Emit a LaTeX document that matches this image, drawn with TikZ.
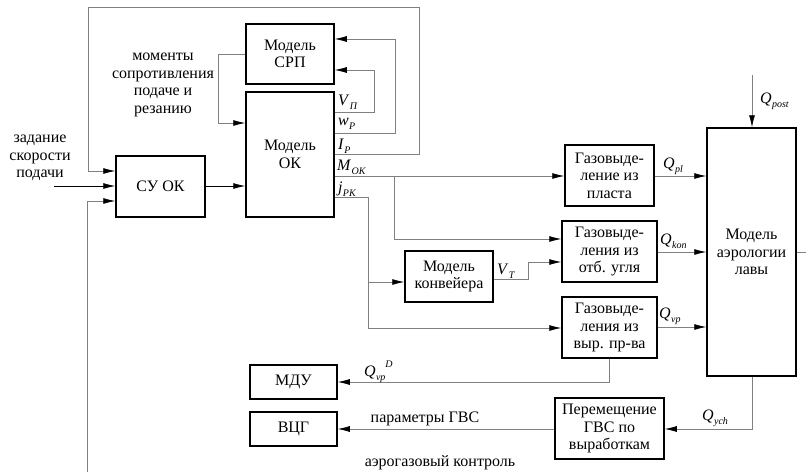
\documentclass[tikz,border=0pt]{standalone}
\usepackage{fontspec}
\setmainfont{Liberation Serif}
\usetikzlibrary{arrows.meta}
\newcommand\qs[2]{\textit{#1}\kern0.3pt\raisebox{-0.5ex}{\fontsize{10}{10}\selectfont\textit{#2}}}
\newcommand\qsd[3]{\textit{#1}\kern0.3pt\raisebox{-0.5ex}{\fontsize{10}{10}\selectfont\textit{#2}}\raisebox{1.2ex}{\fontsize{10}{10}\selectfont\textit{#3}}}
\begin{document}
\begin{tikzpicture}[x=1pt,y=-1pt,font=\fontsize{16}{17.5}\selectfont,
  blk/.style={draw=black,line width=1.5pt,align=center,inner sep=0pt,fill=white},
  con/.style={draw=black!50,line width=0.7pt},
  arr/.style={con,-{Latex[length=12pt,width=6pt,color=black]}},
  lbl/.style={inner sep=0pt,anchor=west},
  txt/.style={inner sep=0pt,align=center}]
\useasboundingbox (0,0) rectangle (806,472);
% blocks
\node[blk,minimum width=88pt,minimum height=60pt] (srp) at (290,54) {Модель\\СРП};
\node[blk,minimum width=88pt,minimum height=125pt] (ok) at (290,154.5) {Модель\\ОК};
\node[blk,minimum width=89pt,minimum height=61pt] (suok) at (160.5,186.5) {СУ ОК};
\node[blk,minimum width=89pt,minimum height=61pt] (g1) at (609.5,175.5) {Газовыде-\\ление из\\пласта};
\node[blk,minimum width=95pt,minimum height=61pt] (g2) at (609.5,251.5) {Газовыде-\\ления из\\отб. угля};
\node[blk,minimum width=95pt,minimum height=61pt] (g3) at (609.5,327.5) {Газовыде-\\ления из\\выр. пр-ва};
\node[blk,minimum width=88pt,minimum height=51pt] (conv) at (449,276.5) {Модель\\конвейера};
\node[blk,minimum width=89pt,minimum height=248pt] (aer) at (751.5,252) {Модель\\аэрологии\\лавы};
\node[blk,minimum width=87pt,minimum height=34pt] (mdu) at (293.5,382) {МДУ};
\node[blk,minimum width=87pt,minimum height=34pt] (vcg) at (293.5,429) {ВЦГ};
\node[blk,minimum width=109pt,minimum height=61pt] (per) at (609.5,428.5) {Перемещение\\ГВС по\\выработкам};
% free texts
\node[txt] (mom) at (163,85) {моменты\\сопротивления\\подаче и\\резанию};
\node[txt] (zad) at (40,158) {задание\\скорости\\подачи};
\node[txt] (par) at (425,419) {параметры ГВС};
\node[txt] (aero) at (440,463) {аэрогазовый контроль};
% free ends
\coordinate (inp) at (54,186);
\coordinate (bl) at (87,472);
\coordinate (qp) at (752,75);
\coordinate (ar) at (806,252);
% connectors
\draw[arr] (ok.east |- 0,154) -- (419,154) -- (419,7) -- (88,7) -- (88,171) -- (suok.west |- 0,171);
\draw[arr] (ok.east |- 0,133) -- (395,133) -- (395,39) -- (srp.east |- 0,39);
\draw[arr] (ok.east |- 0,112) -- (374,112) -- (374,70) -- (srp.east |- 0,70);
\draw[arr] (srp.west |- 0,54) -- (218,54) -- (218,123) -- (ok.west |- 0,123);
\draw[arr,draw=black] (inp) -- (suok.west |- inp);
\draw[arr,draw=black] (suok.east |- 0,186) -- (ok.west |- 0,186);
\draw[arr] (bl) -- (87,201) -- (suok.west |- 0,201);
\draw[arr] (ok.east |- 0,176) -- (g1.west |- 0,176);
\draw[arr] (394,176) -- (394,239) -- (g2.west |- 0,239);
\draw[arr] (ok.east |- 0,197) -- (368,197) -- (368,328) -- (g3.west |- 0,328);
\draw[arr] (368,282) -- (conv.west |- 0,282);
\draw[arr] (conv.east |- 0,279) -- (528,279) -- (528,262) -- (g2.west |- 0,262);
\draw[arr] (g1.east |- 0,176) -- (aer.west |- 0,176);
\draw[arr] (g2.east |- 0,252) -- (aer.west |- 0,252);
\draw[arr] (g3.east |- 0,327) -- (aer.west |- 0,327);
\draw[arr] (qp) -- (qp |- aer.north);
\draw[con] (aer.east) -- (ar);
\draw[arr] (qp |- aer.south) -- (752,429) -- (per.east |- 0,429);
\draw[arr] (per.west |- 0,429) -- (vcg.east |- 0,429);
\draw[arr] (g3.south) -- (g3.south |- 0,382) -- (mdu.east |- 0,382);
% labels
\node[lbl] (lvp) at (338,102) {\qs{V}{П}};
\node[lbl] (lwp) at (338,124) {\qs{w}{P}};
\node[lbl] (lip) at (338,146) {\qs{I}{P}};
\node[lbl] (lmok) at (337,167) {\qs{M}{OK}};
\node[lbl] (ljpk) at (338,189) {\qs{j}{PK}};
\node[lbl] (lvt) at (497,271) {\qs{V}{T}};
\node[lbl] (lqpl) at (663,166) {\qs{Q}{pl}};
\node[lbl] (lqkon) at (660,241) {\qs{Q}{kon}};
\node[lbl] (lqvp) at (659,316) {\qs{Q}{vp}};
\node[lbl] (lqpost) at (760,101) {\qs{Q}{post}};
\node[lbl] (lqych) at (702,418) {\qs{Q}{ych}};
\node[lbl] (lqvpd) at (364,372) {\qsd{Q}{vp}{D}};
\end{tikzpicture}
\end{document}
